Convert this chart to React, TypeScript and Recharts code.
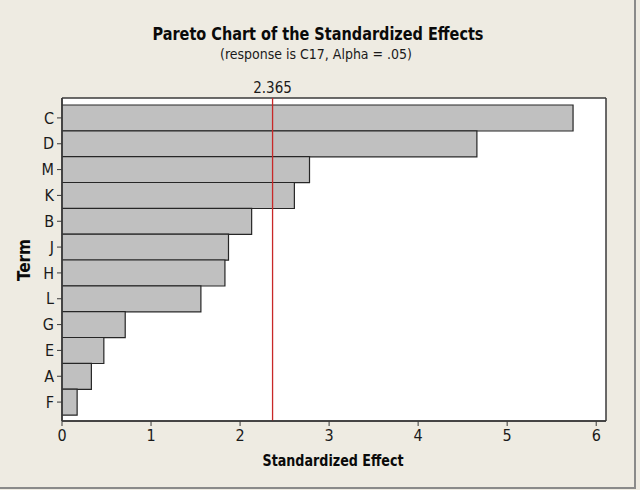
import React from 'react';
import { BarChart, Bar, XAxis, YAxis, ReferenceLine, CartesianGrid } from 'recharts';

// Terms ordered from largest to smallest standardized effect
const terms = ['C', 'D', 'M', 'K', 'B', 'J', 'H', 'L', 'G', 'E', 'A', 'F'];
const effects = [5.74, 4.66, 2.78, 2.61, 2.13, 1.87, 1.83, 1.56, 0.71, 0.47, 0.33, 0.17];
const xTicks = [0, 1, 2, 3, 4, 5, 6];
const criticalValue = 2.365;
const xMax = 6.11;

const data = terms.map((term, i) => ({ term, effect: effects[i] }));

const FONT = "'DejaVu Sans Condensed', 'DejaVu Sans', sans-serif";
const BG = '#EEEBE2';
const FRAME = '#3a3a3a';

// grid lines placed only on the plot-area edges, forming the frame
const frameRows = ({ offset }: any) => [offset.top, offset.top + offset.height];
const frameCols = ({ offset }: any) => [offset.left, offset.left + offset.width];

export default function App() {
  return (
    <div style={{ position: 'absolute', left: 0, top: 0, width: 640, height: 490, background: BG }}>
      <div
        style={{
          position: 'absolute',
          left: 0,
          top: 0,
          width: 634,
          height: 487,
          borderRight: '2px solid #8a8a8a',
          borderBottom: '2px solid #8a8a8a',
        }}
      />
      <div style={{ position: 'absolute', left: 0, top: 0 }}>
        <BarChart
          width={640}
          height={490}
          data={data}
          layout="vertical"
          barCategoryGap={0}
          margin={{ top: 98, right: 34, bottom: 39, left: 0 }}
        >
          <CartesianGrid
            fill="#ffffff"
            stroke={FRAME}
            strokeWidth={1.5}
            strokeOpacity={1}
            horizontalCoordinatesGenerator={frameRows}
            verticalCoordinatesGenerator={frameCols}
          />
          <XAxis
            type="number"
            domain={[0, xMax]}
            ticks={xTicks}
            height={30}
            allowDataOverflow
            tickSize={5}
            tickMargin={4}
            axisLine={{ stroke: FRAME, strokeWidth: 1.5 }}
            tickLine={{ stroke: FRAME }}
            tick={{ fill: '#1a1a1a', fontSize: 16, fontFamily: FONT }}
          />
          <YAxis
            type="category"
            dataKey="term"
            width={62}
            padding={{ top: 7, bottom: 6 }}
            tickSize={5}
            tickMargin={3}
            axisLine={{ stroke: FRAME, strokeWidth: 1.5 }}
            tickLine={{ stroke: FRAME }}
            tick={{ fill: '#1a1a1a', fontSize: 16, fontFamily: FONT }}
          />
          <Bar
            dataKey="effect"
            fill="#C0C0C0"
            stroke="#262626"
            strokeWidth={1.2}
            isAnimationActive={false}
          />
          <ReferenceLine
            x={criticalValue}
            stroke="#C82828"
            strokeWidth={1.3}
            label={{
              value: String(criticalValue),
              position: 'top',
              offset: 5,
              fill: '#1a1a1a',
              fontSize: 15,
              fontFamily: FONT,
            }}
          />
          <text
            x={318}
            y={40}
            textAnchor="middle"
            fontFamily={FONT}
            fontWeight="bold"
            fontSize={18}
            textLength={331}
            lengthAdjust="spacingAndGlyphs"
            fill="#0a0a0a"
          >
            Pareto Chart of the Standardized Effects
          </text>
          <text
            x={316}
            y={59}
            textAnchor="middle"
            fontFamily={FONT}
            fontSize={14}
            textLength={192}
            lengthAdjust="spacingAndGlyphs"
            fill="#1a1a1a"
          >
            (response is C17, Alpha = .05)
          </text>
          <text
            x={333}
            y={466}
            textAnchor="middle"
            fontFamily={FONT}
            fontWeight="bold"
            fontSize={16}
            textLength={141}
            lengthAdjust="spacingAndGlyphs"
            fill="#0a0a0a"
          >
            Standardized Effect
          </text>
          <text
            x={30}
            y={260}
            textAnchor="middle"
            transform="rotate(-90, 30, 260)"
            fontFamily={FONT}
            fontWeight="bold"
            fontSize={17}
            fill="#0a0a0a"
          >
            Term
          </text>
        </BarChart>
      </div>
    </div>
  );
}
